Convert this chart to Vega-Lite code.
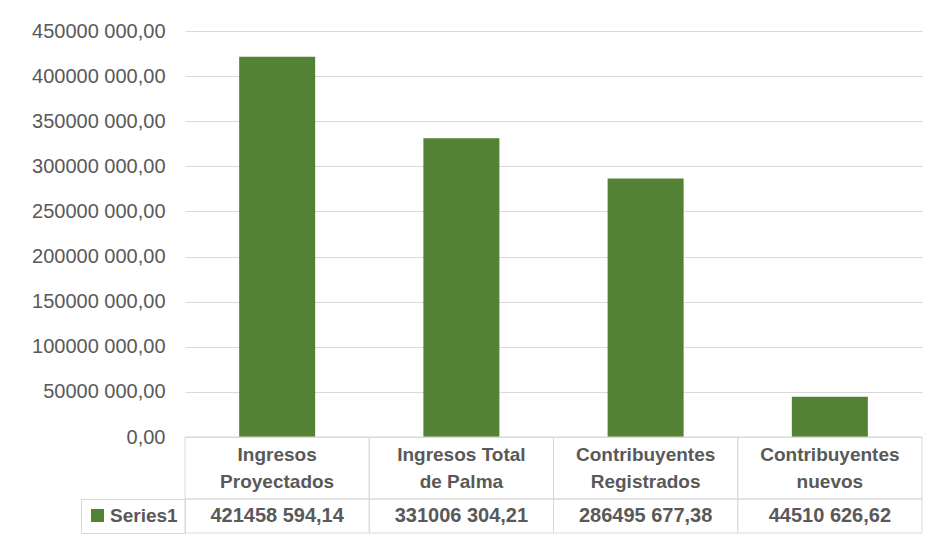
{
  "$schema": "https://vega.github.io/schema/vega-lite/v6.json",
  "padding": {"left": 31, "top": 21, "right": 5, "bottom": 5},
  "background": "white",
  "config": {"font": "Liberation Sans", "view": {"stroke": null}},
  "data": {"values": [
    {"cat": "Ingresos\nProyectados", "value": 421458594.14, "series": "Series1"},
    {"cat": "Ingresos Total\nde Palma", "value": 331006304.21, "series": "Series1"},
    {"cat": "Contribuyentes\nRegistrados", "value": 286495677.38, "series": "Series1"},
    {"cat": "Contribuyentes\nnuevos", "value": 44510626.62, "series": "Series1"}
  ]},
  "transform": [
    {"calculate": "floor(datum.value/1000) + ' ' + replace(slice(format(datum.value % 1000 + 1000, '.2f'), 1), '.', ',')", "as": "label"}
  ],
  "spacing": 0,
  "bounds": "flush",
  "resolve": {"scale": {"x": "independent", "color": "independent"}, "legend": {"color": "independent"}},
  "vconcat": [
    {
      "width": 737,
      "height": 406,
      "mark": {"type": "bar", "color": "#548235"},
      "encoding": {
        "x": {"field": "cat", "type": "nominal", "sort": null, "scale": {"paddingInner": 0.5875, "paddingOuter": 0.294}, "axis": null},
        "y": {"field": "value", "type": "quantitative", "scale": {"domain": [0, 450000000]},
          "axis": {"title": null, "values": [0, 50000000, 100000000, 150000000, 200000000, 250000000, 300000000, 350000000, 400000000, 450000000],
            "grid": true, "gridColor": "#d9d9d9", "gridWidth": 1, "domain": false, "ticks": false,
            "labelPadding": 20, "labelFontSize": 20, "labelColor": "#595959",
            "labelExpr": "datum.value == 0 ? '0,00' : floor(datum.value/1000) + ' ' + format(datum.value % 1000, '03d') + ',00'"}}
      }
    },
    {
      "width": 737,
      "height": 62,
      "encoding": {
        "x": {"field": "cat", "type": "nominal", "sort": null, "scale": {"paddingInner": 0, "paddingOuter": 0}, "axis": null}
      },
      "layer": [
        {"mark": {"type": "rect", "fill": "transparent", "stroke": "#d9d9d9", "strokeWidth": 1}},
        {"mark": {"type": "text", "lineBreak": "\n", "lineHeight": 27, "fontSize": 19, "fontWeight": "bold", "color": "#595959", "baseline": "middle", "dy": -13},
          "encoding": {"text": {"field": "cat"}}}
      ]
    },
    {
      "width": 737,
      "height": 34,
      "encoding": {
        "x": {"field": "cat", "type": "nominal", "sort": null, "scale": {"paddingInner": 0, "paddingOuter": 0}, "axis": null}
      },
      "layer": [
        {"mark": {"type": "rect", "fill": "transparent", "stroke": "#d9d9d9", "strokeWidth": 1}},
        {"mark": {"type": "text", "fontSize": 20, "fontWeight": "bold", "color": "#595959", "baseline": "middle"},
          "encoding": {"text": {"field": "label"}}},
        {"mark": {"type": "point", "opacity": 0, "filled": true},
          "encoding": {"color": {"field": "series", "type": "nominal", "scale": {"range": ["#548235"]},
            "legend": {"title": null, "orient": "left", "offset": 0, "symbolType": "square", "symbolSize": 169, "symbolOpacity": 1, "symbolStrokeWidth": 0,
              "labelFontSize": 19, "labelFontWeight": "bold", "labelColor": "#595959", "labelOffset": 3, "strokeColor": "#d9d9d9", "padding": 7}}}}
      ]
    }
  ]
}
